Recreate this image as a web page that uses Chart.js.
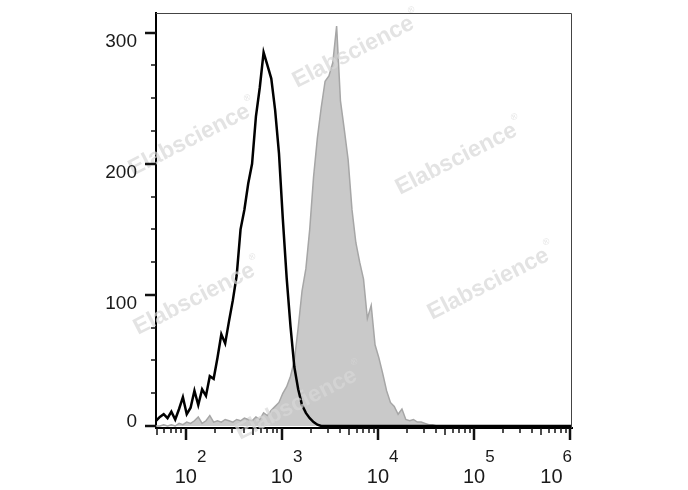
<!DOCTYPE html>
<html>
<head>
<meta charset="utf-8">
<script src="https://cdn.jsdelivr.net/npm/chart.js@4/dist/chart.umd.min.js"></script>
<style>
html, body { margin: 0; padding: 0; background: #fff; }
</style>
</head>
<body>
<canvas id="hist" width="688" height="490"></canvas>
<script>
// log10 of the channel (bin) positions
var channels = [
  1.69, 1.73, 1.77, 1.81, 1.85, 1.89, 1.93, 1.97,
  2.01, 2.05, 2.09, 2.13, 2.17, 2.21, 2.25, 2.29, 2.33, 2.37, 2.41, 2.45, 2.49, 2.53, 2.57,
  2.61, 2.65, 2.69, 2.73, 2.77, 2.81, 2.85, 2.89, 2.93, 2.97,
  3.01, 3.05, 3.09, 3.13, 3.17, 3.21, 3.25, 3.29, 3.33, 3.37, 3.41, 3.45, 3.49, 3.53, 3.57,
  3.61, 3.65, 3.69, 3.73, 3.77, 3.81, 3.85, 3.89, 3.93, 3.97,
  4.01, 4.05, 4.09, 4.13, 4.17, 4.21, 4.25, 4.29, 4.33, 4.37, 4.41, 4.45, 4.49, 4.53, 4.57, 4.61,
  6.02
];
// isotype control (black line)
var controlCounts = [
  4, 7, 9, 6, 11, 5, 13, 22,
  9, 14, 27, 16, 28, 23, 38, 36, 52, 70, 63, 80, 96, 115, 150,
  165, 185, 200, 236, 258, 285, 275, 265, 241, 208,
  158, 113, 76, 45, 28, 16, 10, 6, 3, 1, 0, 0, 0, 0, 0,
  0, 0, 0, 0, 0, 0, 0, 0, 0, 0,
  0, 0, 0, 0, 0, 0, 0, 0, 0, 0, 0, 0, 0, 0, 0, 0,
  0
];
// stained sample (grey filled)
var stainedCounts = [
  0, 0, 1, 0, 1, 0, 2, 1,
  3, 2, 4, 7, 2, 4, 8, 3, 4, 3, 5, 4, 3, 5, 4,
  6, 5, 4, 7, 5, 10, 8, 12, 15, 18,
  25, 30, 38, 50, 75, 103, 120, 150, 190, 220, 243, 263, 267, 277, 305,
  248, 226, 203, 165, 140, 125, 112, 82, 92, 62,
  52, 40, 27, 18, 15, 9, 13, 5, 4, 5, 3, 3, 2, 1, 1, 0,
  0
];
var xTickPowers = [2, 3, 4, 5, 6];
var yTickLabels = [0, 100, 200, 300];
var watermarkText = 'Elabscience';

function toPoints(counts) {
  var pts = [];
  for (var i = 0; i < channels.length; i++) {
    pts.push({ x: Math.pow(10, channels[i]), y: counts[i] });
  }
  return pts;
}

var FONT = 'Arial, "Liberation Sans", sans-serif';

var watermark = {
  id: 'watermark',
  afterDatasetsDraw: function(chart) {
    var c = chart.ctx;
    var spots = [[297, 88], [133, 176], [400, 195], [138, 335], [432, 320], [240, 440]];
    c.save();
    spots.forEach(function(s) {
      c.save();
      c.translate(s[0], s[1]);
      c.rotate(-27 * Math.PI / 180);
      c.fillStyle = 'rgba(215,215,215,0.7)';
      c.font = 'bold 23px ' + FONT;
      c.fillText(watermarkText, 0, 0);
      var w = c.measureText(watermarkText).width;
      c.font = '9px ' + FONT;
      c.fillText('\u00AE', w + 1, -15);
      c.restore();
    });
    c.restore();
  }
};

var axisDecor = {
  id: 'axisDecor',
  afterDraw: function(chart) {
    var c = chart.ctx, a = chart.chartArea;
    var xs = chart.scales.x, ys = chart.scales.y;
    c.save();
    // thin frame on top and right
    c.strokeStyle = '#444';
    c.lineWidth = 1;
    c.beginPath();
    c.moveTo(a.left, a.top + 0.5);
    c.lineTo(a.right - 0.5, a.top + 0.5);
    c.lineTo(a.right - 0.5, a.bottom);
    c.stroke();

    // x tick marks (decades and their minors)
    c.strokeStyle = '#111';
    for (var n = 1; n <= 6; n++) {
      for (var k = 1; k <= 9; k++) {
        var v = k * Math.pow(10, n);
        if (v < xs.min || v > xs.max * 1.001) continue;
        var px = Math.round(xs.getPixelForValue(v));
        var len = k === 1 ? 12 : (k === 5 ? 7 : 5);
        c.lineWidth = k === 1 ? 2.5 : 1.5;
        c.beginPath();
        c.moveTo(px, a.bottom);
        c.lineTo(px, a.bottom + len);
        c.stroke();
      }
    }
    // y tick marks every 25
    for (var t = 0; t <= 300; t += 25) {
      var py = Math.round(ys.getPixelForValue(t));
      var major = t % 100 === 0;
      c.lineWidth = major ? 2.5 : 1.5;
      c.beginPath();
      c.moveTo(a.left - (major ? 11 : 5), py);
      c.lineTo(a.left, py);
      c.stroke();
    }

    // y labels
    c.fillStyle = '#1a1a1a';
    c.font = '19px ' + FONT;
    c.textAlign = 'right';
    c.textBaseline = 'alphabetic';
    yTickLabels.forEach(function(val) {
      var py = ys.getPixelForValue(val);
      c.fillText(String(val), 137, val === 0 ? py + 1 : py + 14);
    });

    // x labels: 10 with superscript power
    c.textAlign = 'left';
    xTickPowers.forEach(function(p) {
      var px = xs.getPixelForValue(Math.pow(10, p));
      c.font = '20px ' + FONT;
      var wb = c.measureText('10').width;
      c.font = '17px ' + FONT;
      var we = c.measureText(String(p)).width;
      var left = px - wb / 2;
      if (left + wb + we > a.right + 2) left = a.right - wb - we;
      c.font = '20px ' + FONT;
      c.fillText('10', left, 483);
      c.font = '17px ' + FONT;
      c.fillText(String(p), left + wb, 462);
    });
    c.restore();
  }
};

var ctx = document.getElementById('hist').getContext('2d');
var chart = new Chart(ctx, {
  type: 'line',
  data: {
    datasets: [{
      label: 'Control',
      data: toPoints(controlCounts),
      borderColor: '#000',
      borderWidth: 2.5,
      pointRadius: 0,
      tension: 0,
      fill: false
    }, {
      label: 'Stained',
      data: toPoints(stainedCounts),
      borderColor: '#a6a6a6',
      backgroundColor: '#c9c9c9',
      borderWidth: 1.5,
      pointRadius: 0,
      tension: 0,
      fill: 'origin'
    }]
  },
  options: {
    responsive: false,
    animation: false,
    events: [],
    layout: { padding: { top: 13, right: 116, left: 0, bottom: 0 } },
    plugins: {
      legend: { display: false },
      tooltip: { enabled: false }
    },
    scales: {
      x: {
        type: 'logarithmic',
        min: Math.pow(10, 1.69),
        max: Math.pow(10, 6.02),
        grid: { display: false, drawTicks: false },
        ticks: { display: false },
        border: { display: true, color: '#000', width: 2 },
        afterFit: function(s) { s.height = 62; }
      },
      y: {
        min: -1.5,
        max: 315,
        grid: { display: false, drawTicks: false },
        ticks: { display: false },
        border: { display: true, color: '#000', width: 2 },
        afterFit: function(s) { s.width = 156; }
      }
    }
  },
  plugins: [watermark, axisDecor]
});
</script>
</body>
</html>
